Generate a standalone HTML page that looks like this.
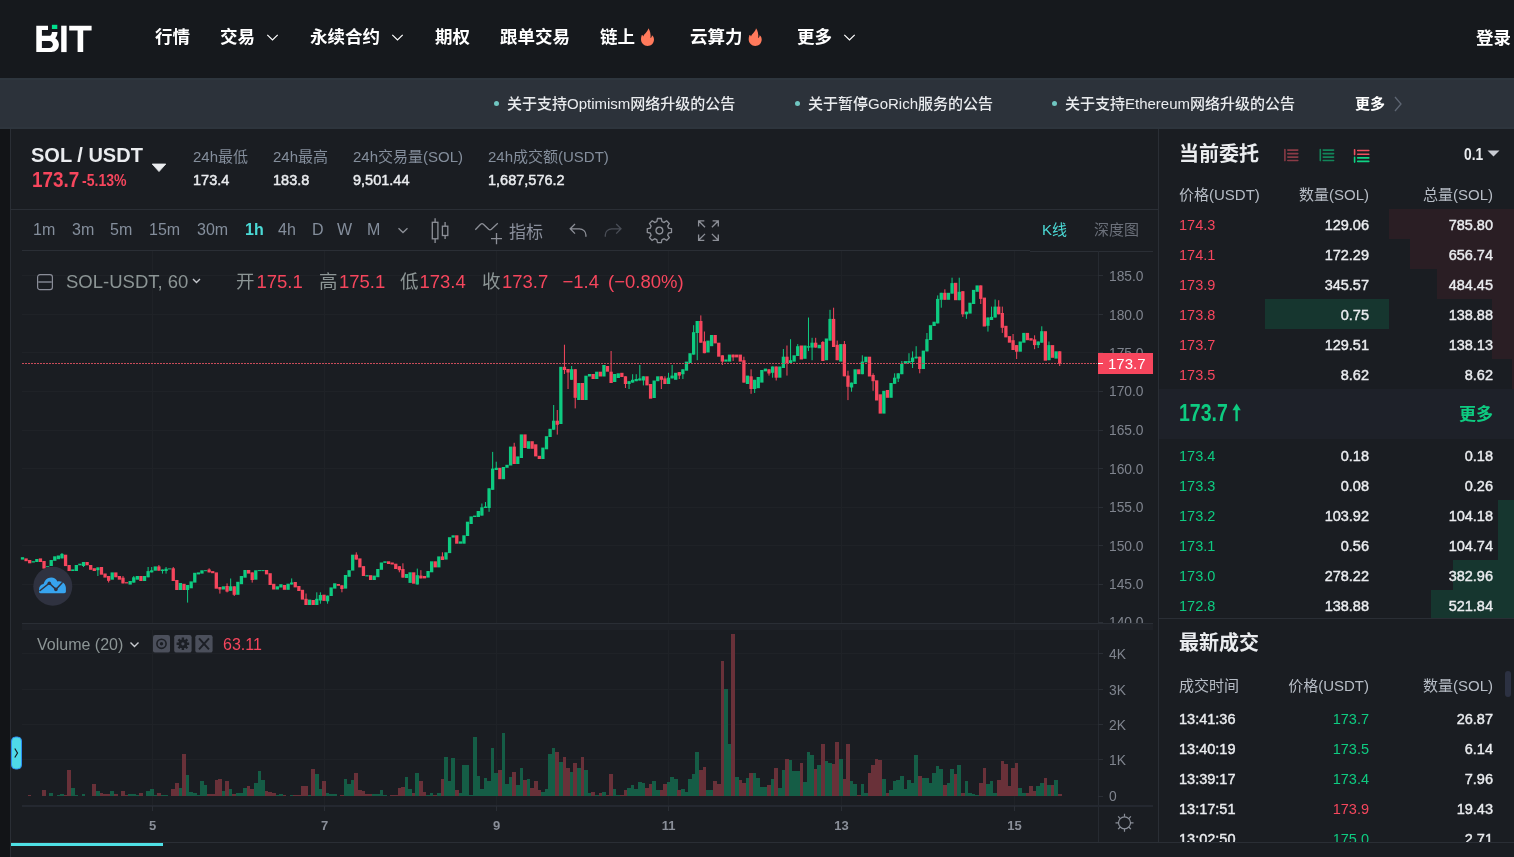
<!DOCTYPE html>
<html lang="zh-CN"><head><meta charset="utf-8"><title>SOL/USDT</title>
<style>
*{box-sizing:border-box;margin:0;padding:0}
html,body{width:1514px;height:857px;overflow:hidden}
body{position:relative;background:#1a1d22;font-family:"Liberation Sans","Noto Sans CJK SC",sans-serif;color:#fff}
.a{position:absolute;white-space:nowrap}
.cjk{font-family:"Liberation Sans","Noto Sans CJK SC",sans-serif}
#hdr{left:0;top:0;width:1514px;height:78px;background:#16191d}
.nav{font-size:17.5px;font-weight:700;color:#fff;line-height:20px;top:27px}
#ann{left:0;top:78px;width:1514px;height:51px;background:#2c323a;border-top:2px solid #2e363e;border-bottom:2px solid #2e353d}
.an{font-size:15px;font-weight:500;color:#eaecef;line-height:20px;top:94px}
.dot{width:5px;height:5px;border-radius:50%;background:#6fc6c0}
#gut{left:0;top:129px;width:10px;height:728px;background:#121417}
#cp{left:10px;top:129px;width:1149px;height:728px;background:#1a1d22;border-left:1px solid #2a2e35}
.hl{background:#2a2e35;height:1px}
.gray{color:#848e9c}
.t14{font-size:14px;line-height:18px}
.tb{font-size:16px;line-height:20px;color:#848e9c;top:220px}
#rp{left:1159px;top:129px;width:355px;height:728px;background:#1a1d22}
.ob{font-size:14.5px;line-height:18px;margin-top:1px}
.ob.w{font-weight:400;-webkit-text-stroke:0.4px #eaecef}
.r{text-align:right}
.red{color:#f6465d}.grn{color:#0ecb81}
.w{color:#eaecef}
.lg{font-size:18.5px;line-height:22px;top:271px;color:#8c9595}
.hd{color:#b7bdc6}
.lg.red{color:#f6465d}
</style></head>
<body>
<!-- ================= HEADER ================= -->
<div id="hdr" class="a"></div>
<svg class="a" style="left:0;top:0" width="100" height="78" viewBox="0 0 100 78">
 <path fill="#fff" fill-rule="evenodd" d="M36.3 25.7H48V30.1H41.9V35.7H50.3C51.3 35.1 51.9 33.6 51.9 32H57.5C57.5 34.6 56.7 36.6 55.2 38.2C57.6 39.6 58.9 41.9 58.9 44.6C58.9 48.8 55.8 52.1 51.5 52.1H36.3Z M41.9 40.9H49.3C51.3 40.9 52.9 42.5 52.9 44.4C52.9 46.3 51.3 47.9 49.3 47.9H41.9Z"/>
 <rect x="51.9" y="24.8" width="5.4" height="4.2" fill="#00e08d"/>
 <rect x="61.2" y="25.7" width="5.4" height="26.4" fill="#fff"/>
 <path fill="#fff" d="M69.2 25.7H91.6V30.4H83.2V52.1H77.6V30.4H69.2Z"/>
</svg>
<div class="a nav" style="left:155px">行情</div>
<div class="a nav" style="left:220px">交易</div>
<div class="a nav" style="left:310px">永续合约</div>
<div class="a nav" style="left:435px">期权</div>
<div class="a nav" style="left:500px">跟单交易</div>
<div class="a nav" style="left:600px">链上</div>
<div class="a nav" style="left:690px">云算力</div>
<div class="a nav" style="left:797px">更多</div>
<div class="a nav" style="left:1476px;top:28px">登录</div>
<svg class="a" style="left:0;top:0" width="900" height="78" viewBox="0 0 900 78" fill="none" stroke="#fff" stroke-width="1.2">
 <path d="M267.3 34.8L272.5 40L277.7 34.8"/>
 <path d="M392.3 34.8L397.5 40L402.7 34.8"/>
 <path d="M844.3 34.8L849.5 40L854.7 34.8"/>
 <g fill="#ff7a5c" stroke="none">
  <path d="M648.3 28.3C647.9 31.5 644.5 33.5 643.3 36.5C642.8 35.4 642.2 35 641.8 35.1C641.2 36.5 641 38 641 39.3C641 43.2 644 46 647.5 46C651.2 46 654 43.2 654 39.5C654 36.8 652.6 35.6 651.9 35.2C651.9 36.5 651.3 37.6 650.5 38C651.1 34.3 649.9 30.3 648.3 28.3Z"/>
  <path transform="translate(107.7 0)" d="M648.3 28.3C647.9 31.5 644.5 33.5 643.3 36.5C642.8 35.4 642.2 35 641.8 35.1C641.2 36.5 641 38 641 39.3C641 43.2 644 46 647.5 46C651.2 46 654 43.2 654 39.5C654 36.8 652.6 35.6 651.9 35.2C651.9 36.5 651.3 37.6 650.5 38C651.1 34.3 649.9 30.3 648.3 28.3Z"/>
 </g>
</svg>

<!-- ================= ANNOUNCEMENTS ================= -->
<div id="ann" class="a"></div>
<div class="a dot" style="left:494px;top:101px"></div>
<div class="a an" style="left:507px">关于支持Optimism网络升级的公告</div>
<div class="a dot" style="left:795px;top:101px"></div>
<div class="a an" style="left:808px">关于暂停GoRich服务的公告</div>
<div class="a dot" style="left:1052px;top:101px"></div>
<div class="a an" style="left:1065px">关于支持Ethereum网络升级的公告</div>
<div class="a an" style="left:1355px;font-weight:700;color:#fff">更多</div>
<svg class="a" style="left:1390px;top:94px" width="16" height="20" viewBox="0 0 16 20"><path d="M5 3L11 10L5 17" fill="none" stroke="#5e6673" stroke-width="1.3"/></svg>

<!-- ================= LEFT GUTTER / CHART PANEL ================= -->
<div id="gut" class="a"></div>
<div id="cp" class="a"></div>
<div class="a" style="left:1158px;top:129px;width:1px;height:713px;background:#2a2e35"></div>


<!-- pair header -->
<div class="a" style="left:31px;top:143px;font-size:20px;font-weight:700;line-height:24px;color:#eaecef">SOL / USDT</div>
<svg class="a" style="left:150px;top:162px" width="18" height="12" viewBox="0 0 18 12"><path d="M2.2 2H15.8L9 9.6Z" fill="#eaecef" stroke="#eaecef" stroke-width="0.8" stroke-linejoin="round"/></svg>
<div class="a red" style="left:31.5px;top:168px;font-size:21.5px;font-weight:700;line-height:24px;transform:scaleX(0.88);transform-origin:0 0">173.7</div>
<div class="a red" style="left:82px;top:172px;font-size:16px;font-weight:700;line-height:18px;transform:scaleX(0.88);transform-origin:0 0">-5.13%</div>
<div class="a gray" style="left:193px;top:148px;font-size:15px;line-height:18px">24h最低</div>
<div class="a w" style="left:193px;top:171px;font-size:14.5px;line-height:18px;-webkit-text-stroke:0.45px #eaecef">173.4</div>
<div class="a gray" style="left:273px;top:148px;font-size:15px;line-height:18px">24h最高</div>
<div class="a w" style="left:273px;top:171px;font-size:14.5px;line-height:18px;-webkit-text-stroke:0.45px #eaecef">183.8</div>
<div class="a gray" style="left:353px;top:148px;font-size:15px;line-height:18px">24h交易量(SOL)</div>
<div class="a w" style="left:353px;top:171px;font-size:14.5px;line-height:18px;-webkit-text-stroke:0.45px #eaecef">9,501.44</div>
<div class="a gray" style="left:488px;top:148px;font-size:15px;line-height:18px">24h成交额(USDT)</div>
<div class="a w" style="left:488px;top:171px;font-size:14.5px;line-height:18px;-webkit-text-stroke:0.45px #eaecef">1,687,576.2</div>
<div class="a hl" style="left:10px;top:209px;width:1149px"></div>

<!-- toolbar -->
<div class="a tb" style="left:33px">1m</div>
<div class="a tb" style="left:72px">3m</div>
<div class="a tb" style="left:110px">5m</div>
<div class="a tb" style="left:149px">15m</div>
<div class="a tb" style="left:197px">30m</div>
<div class="a tb" style="left:245px;color:#4bdad6;font-weight:700">1h</div>
<div class="a tb" style="left:278px">4h</div>
<div class="a tb" style="left:312px">D</div>
<div class="a tb" style="left:337px">W</div>
<div class="a tb" style="left:367px">M</div>
<div class="a tb" style="left:509px;top:222.5px;font-size:17px;color:#8a8f9c">指标</div>
<svg class="a" style="left:380px;top:210px" width="360" height="40" viewBox="380 210 360 40" fill="none" stroke="#8d9098" stroke-width="1.3">
 <path d="M398.5 228.3L403 232.5L407.5 228.3"/>
 <rect x="432.3" y="222.3" width="5.6" height="16.5"/>
 <path d="M435.1 218.2V222.3M435.1 238.8V243"/>
 <rect x="442.4" y="226.2" width="5.4" height="9.3"/>
 <path d="M445.1 221.9V226.2M445.1 235.5V239"/>
 <path d="M475.3 229.8L480.6 224.2Q482 223 483.4 224.2L488.6 229.3Q490 230.4 491.4 229.3L497.8 223.3"/>
 <path d="M491 238.7H502M496.5 233.1V244.2"/>
 <path d="M575 224L570.2 228.8L575 233.6M570.5 228.8H579.5C583 228.8 585.9 231.6 585.9 235V236.8"/>
 <path stroke="#4a4e57" d="M616.2 224L621 228.8L616.2 233.6M620.7 228.8H611.7C608.2 228.8 605.3 231.6 605.3 235V236.8"/>
 <g transform="translate(659.4 230.6)">
  <path d="M-1.9 -11.6H1.9L2.6 -8.6L4.6 -7.7L7.3 -9.3L9.9 -6.6L8.3 -4L9.1 -2L12.1 -1.4V2.4L9.1 3L8.3 5L9.9 7.6L7.3 10.3L4.6 8.7L2.6 9.6L1.9 12.6H-1.9L-2.6 9.6L-4.6 8.7L-7.3 10.3L-9.9 7.6L-8.3 5L-9.1 3L-12.1 2.4V-1.4L-9.1 -2L-8.3 -4L-9.9 -6.6L-7.3 -9.3L-4.6 -7.7L-2.6 -8.6Z" transform="translate(0 -0.5)"/>
  <circle cx="0" cy="0" r="3.4"/>
 </g>
 <path d="M698.6 226.5V220.8H704.3M698.6 220.8L705 227.2 M718.3 226.5V220.8H712.6M718.3 220.8L711.9 227.2 M698.6 234.6V240.3H704.3M698.6 240.3L705 233.9 M718.3 234.6V240.3H712.6M718.3 240.3L711.9 233.9"/>
</svg>
<div class="a" style="left:1042px;top:220px;font-size:15px;line-height:20px;color:#4bdad6">K线</div>
<div class="a" style="left:1094px;top:220px;font-size:15px;line-height:20px;color:#6b707a">深度图</div>
<div class="a hl" style="left:22px;top:250px;width:1008px"></div>
<div class="a hl" style="left:1030px;top:251px;width:123px"></div>

<!-- chart svg -->
<svg class="a" style="left:10px;top:251px" width="1149" height="606" viewBox="10 251 1149 606">
 <g stroke="#1f2227" stroke-width="1">
  <path d="M22 275.5H1098M22 314.5H1098M22 352.5H1098M22 391.5H1098M22 430.5H1098M22 468.5H1098M22 507.5H1098M22 545.5H1098M22 584.5H1098"/>
  <path d="M152.5 251V623M324.5 251V623M496.5 251V623M668.5 251V623M841.5 251V623M1014.5 251V623"/>
  <path d="M22 653.5H1098M22 689.5H1098M22 724.5H1098M22 759.5H1098"/>
  <path d="M152.5 630V806M324.5 630V806M496.5 630V806M668.5 630V806M841.5 630V806M1014.5 630V806"/>
 </g>
 <path d="M1098.5 251V842" stroke="#262a31"/>
 <rect x="20.85" y="557.2" width="3.3" height="2.4" fill="#0ecb81"/>
<rect x="24.44" y="558.4" width="3.3" height="2.8" fill="#f6465d"/>
<rect x="28.03" y="560.0" width="3.3" height="3.3" fill="#f6465d"/>
<rect x="31.62" y="561.2" width="3.3" height="1.3" fill="#0ecb81"/>
<rect x="35.21" y="559.0" width="3.3" height="3.0" fill="#0ecb81"/>
<rect x="38.8" y="558.4" width="3.3" height="3.6" fill="#f6465d"/>
<rect x="42.38" y="561.0" width="3.3" height="7.6" fill="#f6465d"/>
<rect x="45.97" y="566.2" width="3.3" height="1.0" fill="#0ecb81"/>
<rect x="49.56" y="560.0" width="3.3" height="6.0" fill="#0ecb81"/>
<rect x="53.15" y="556.3" width="3.3" height="4.5" fill="#0ecb81"/>
<rect x="56.74" y="555.5" width="3.3" height="3.7" fill="#0ecb81"/>
<rect x="60.33" y="553.9" width="3.3" height="4.5" fill="#0ecb81"/>
<rect x="61.48" y="553.0" width="1" height="5.4" fill="#0ecb81"/>
<rect x="63.92" y="554.7" width="3.3" height="11.4" fill="#f6465d"/>
<rect x="67.51" y="565.0" width="3.3" height="6.0" fill="#f6465d"/>
<rect x="71.1" y="569.4" width="3.3" height="1.6" fill="#0ecb81"/>
<rect x="74.69" y="565.0" width="3.3" height="6.0" fill="#0ecb81"/>
<rect x="78.27" y="563.7" width="3.3" height="1.6" fill="#0ecb81"/>
<rect x="81.86" y="562.0" width="3.3" height="4.0" fill="#0ecb81"/>
<rect x="83.01" y="562.0" width="1" height="5.0" fill="#0ecb81"/>
<rect x="85.45" y="562.0" width="3.3" height="3.3" fill="#f6465d"/>
<rect x="89.04" y="565.0" width="3.3" height="4.8" fill="#f6465d"/>
<rect x="92.63" y="568.2" width="3.3" height="2.8" fill="#f6465d"/>
<rect x="96.22" y="567.4" width="3.3" height="2.8" fill="#0ecb81"/>
<rect x="97.37" y="567.4" width="1" height="8.6" fill="#0ecb81"/>
<rect x="99.81" y="567.0" width="3.3" height="7.7" fill="#f6465d"/>
<rect x="103.4" y="573.5" width="3.3" height="4.1" fill="#f6465d"/>
<rect x="106.99" y="576.0" width="3.3" height="4.8" fill="#f6465d"/>
<rect x="108.14" y="576.0" width="1" height="6.5" fill="#f6465d"/>
<rect x="110.57" y="572.4" width="3.3" height="7.3" fill="#0ecb81"/>
<rect x="114.16" y="572.4" width="3.3" height="4.9" fill="#f6465d"/>
<rect x="117.75" y="576.0" width="3.3" height="3.7" fill="#f6465d"/>
<rect x="121.34" y="577.7" width="3.3" height="5.7" fill="#f6465d"/>
<rect x="122.49" y="576.0" width="1" height="7.4" fill="#f6465d"/>
<rect x="124.93" y="582.2" width="3.3" height="1.2" fill="#f6465d"/>
<rect x="128.52" y="581.0" width="3.3" height="3.6" fill="#0ecb81"/>
<rect x="132.11" y="577.3" width="3.3" height="5.3" fill="#0ecb81"/>
<rect x="133.26" y="576.0" width="1" height="6.6" fill="#0ecb81"/>
<rect x="135.7" y="576.0" width="3.3" height="3.7" fill="#0ecb81"/>
<rect x="139.29" y="576.0" width="3.3" height="5.0" fill="#f6465d"/>
<rect x="142.88" y="576.0" width="3.3" height="5.0" fill="#0ecb81"/>
<rect x="146.47" y="571.1" width="3.3" height="6.2" fill="#0ecb81"/>
<rect x="147.62" y="567.0" width="1" height="10.3" fill="#0ecb81"/>
<rect x="150.05" y="570.3" width="3.3" height="2.1" fill="#0ecb81"/>
<rect x="151.20" y="567.0" width="1" height="5.4" fill="#0ecb81"/>
<rect x="153.64" y="566.4" width="3.3" height="4.3" fill="#0ecb81"/>
<rect x="157.23" y="566.4" width="3.3" height="4.3" fill="#f6465d"/>
<rect x="158.38" y="565.0" width="1" height="5.7" fill="#f6465d"/>
<rect x="160.82" y="569.5" width="3.3" height="1.5" fill="#0ecb81"/>
<rect x="161.97" y="569.5" width="1" height="4.1" fill="#0ecb81"/>
<rect x="164.41" y="568.7" width="3.3" height="2.3" fill="#0ecb81"/>
<rect x="165.56" y="567.0" width="1" height="6.6" fill="#0ecb81"/>
<rect x="168.0" y="568.4" width="3.3" height="1.0" fill="#0ecb81"/>
<rect x="171.59" y="568.3" width="3.3" height="12.7" fill="#f6465d"/>
<rect x="172.74" y="567.0" width="1" height="14.0" fill="#f6465d"/>
<rect x="175.18" y="580.0" width="3.3" height="10.0" fill="#f6465d"/>
<rect x="178.77" y="583.0" width="3.3" height="7.0" fill="#0ecb81"/>
<rect x="182.35" y="583.8" width="3.3" height="6.2" fill="#f6465d"/>
<rect x="185.94" y="585.0" width="3.3" height="5.0" fill="#0ecb81"/>
<rect x="187.09" y="585.0" width="1" height="17.6" fill="#0ecb81"/>
<rect x="189.53" y="581.4" width="3.3" height="6.9" fill="#0ecb81"/>
<rect x="193.12" y="572.8" width="3.3" height="9.8" fill="#0ecb81"/>
<rect x="196.71" y="572.4" width="3.3" height="2.0" fill="#0ecb81"/>
<rect x="200.3" y="570.3" width="3.3" height="3.3" fill="#0ecb81"/>
<rect x="203.89" y="570.2" width="3.3" height="1.0" fill="#0ecb81"/>
<rect x="207.48" y="569.5" width="3.3" height="2.9" fill="#f6465d"/>
<rect x="208.63" y="568.3" width="1" height="4.1" fill="#f6465d"/>
<rect x="211.07" y="571.1" width="3.3" height="2.1" fill="#f6465d"/>
<rect x="214.66" y="572.4" width="3.3" height="16.3" fill="#f6465d"/>
<rect x="218.25" y="587.0" width="3.3" height="2.5" fill="#f6465d"/>
<rect x="219.40" y="587.0" width="1" height="6.6" fill="#f6465d"/>
<rect x="221.83" y="586.3" width="3.3" height="3.2" fill="#0ecb81"/>
<rect x="225.42" y="586.0" width="3.3" height="5.6" fill="#f6465d"/>
<rect x="226.57" y="583.4" width="1" height="9.0" fill="#f6465d"/>
<rect x="229.01" y="586.3" width="3.3" height="4.5" fill="#0ecb81"/>
<rect x="230.16" y="578.5" width="1" height="12.3" fill="#0ecb81"/>
<rect x="232.6" y="586.3" width="3.3" height="8.5" fill="#f6465d"/>
<rect x="233.75" y="586.3" width="1" height="9.7" fill="#f6465d"/>
<rect x="236.19" y="581.8" width="3.3" height="13.0" fill="#0ecb81"/>
<rect x="239.78" y="576.0" width="3.3" height="8.2" fill="#0ecb81"/>
<rect x="243.37" y="570.0" width="3.3" height="7.7" fill="#0ecb81"/>
<rect x="246.96" y="570.0" width="3.3" height="3.6" fill="#f6465d"/>
<rect x="250.55" y="572.4" width="3.3" height="7.6" fill="#f6465d"/>
<rect x="251.70" y="572.4" width="1" height="10.2" fill="#f6465d"/>
<rect x="254.13" y="570.3" width="3.3" height="9.4" fill="#0ecb81"/>
<rect x="257.72" y="570.1" width="3.3" height="1.0" fill="#0ecb81"/>
<rect x="261.31" y="570.1" width="3.3" height="1.0" fill="#0ecb81"/>
<rect x="264.9" y="570.0" width="3.3" height="4.4" fill="#f6465d"/>
<rect x="268.49" y="573.2" width="3.3" height="11.8" fill="#f6465d"/>
<rect x="272.08" y="583.8" width="3.3" height="5.7" fill="#f6465d"/>
<rect x="275.67" y="586.3" width="3.3" height="3.2" fill="#0ecb81"/>
<rect x="279.26" y="584.2" width="3.3" height="3.3" fill="#0ecb81"/>
<rect x="282.85" y="585.0" width="3.3" height="4.8" fill="#f6465d"/>
<rect x="286.44" y="583.7" width="3.3" height="6.1" fill="#0ecb81"/>
<rect x="290.03" y="582.5" width="3.3" height="2.0" fill="#0ecb81"/>
<rect x="291.18" y="578.4" width="1" height="6.1" fill="#0ecb81"/>
<rect x="293.61" y="582.0" width="3.3" height="5.4" fill="#f6465d"/>
<rect x="297.2" y="586.0" width="3.3" height="5.0" fill="#f6465d"/>
<rect x="300.79" y="589.8" width="3.3" height="9.8" fill="#f6465d"/>
<rect x="304.38" y="598.8" width="3.3" height="6.2" fill="#f6465d"/>
<rect x="305.53" y="593.5" width="1" height="11.5" fill="#f6465d"/>
<rect x="307.97" y="599.6" width="3.3" height="5.4" fill="#0ecb81"/>
<rect x="311.56" y="600.0" width="3.3" height="5.0" fill="#f6465d"/>
<rect x="315.15" y="598.8" width="3.3" height="6.2" fill="#0ecb81"/>
<rect x="316.30" y="592.3" width="1" height="12.7" fill="#0ecb81"/>
<rect x="318.74" y="595.0" width="3.3" height="5.5" fill="#0ecb81"/>
<rect x="319.89" y="592.3" width="1" height="11.4" fill="#0ecb81"/>
<rect x="322.33" y="594.7" width="3.3" height="6.2" fill="#f6465d"/>
<rect x="325.92" y="595.6" width="3.3" height="5.7" fill="#0ecb81"/>
<rect x="327.06" y="595.6" width="1" height="8.1" fill="#0ecb81"/>
<rect x="329.5" y="587.4" width="3.3" height="8.6" fill="#0ecb81"/>
<rect x="333.09" y="583.3" width="3.3" height="5.3" fill="#0ecb81"/>
<rect x="336.68" y="584.0" width="3.3" height="1.8" fill="#f6465d"/>
<rect x="340.27" y="585.3" width="3.3" height="3.7" fill="#f6465d"/>
<rect x="341.42" y="585.3" width="1" height="7.0" fill="#f6465d"/>
<rect x="343.86" y="575.0" width="3.3" height="13.6" fill="#0ecb81"/>
<rect x="347.45" y="570.2" width="3.3" height="6.6" fill="#0ecb81"/>
<rect x="351.04" y="554.7" width="3.3" height="15.9" fill="#0ecb81"/>
<rect x="354.63" y="554.7" width="3.3" height="4.9" fill="#f6465d"/>
<rect x="355.78" y="552.3" width="1" height="7.3" fill="#f6465d"/>
<rect x="358.22" y="558.4" width="3.3" height="9.0" fill="#f6465d"/>
<rect x="361.81" y="566.1" width="3.3" height="9.9" fill="#f6465d"/>
<rect x="365.39" y="575.2" width="3.3" height="1.2" fill="#0ecb81"/>
<rect x="368.98" y="575.2" width="3.3" height="4.8" fill="#f6465d"/>
<rect x="372.57" y="575.6" width="3.3" height="4.4" fill="#0ecb81"/>
<rect x="376.16" y="569.0" width="3.3" height="8.2" fill="#0ecb81"/>
<rect x="379.75" y="562.5" width="3.3" height="7.3" fill="#0ecb81"/>
<rect x="383.34" y="561.3" width="3.3" height="1.6" fill="#0ecb81"/>
<rect x="386.93" y="561.3" width="3.3" height="2.7" fill="#f6465d"/>
<rect x="390.52" y="562.5" width="3.3" height="2.0" fill="#f6465d"/>
<rect x="394.11" y="563.7" width="3.3" height="5.3" fill="#f6465d"/>
<rect x="397.69" y="566.2" width="3.3" height="4.0" fill="#f6465d"/>
<rect x="398.84" y="566.2" width="1" height="6.1" fill="#f6465d"/>
<rect x="401.28" y="569.0" width="3.3" height="8.6" fill="#f6465d"/>
<rect x="402.43" y="563.3" width="1" height="14.3" fill="#f6465d"/>
<rect x="404.87" y="574.0" width="3.3" height="4.0" fill="#0ecb81"/>
<rect x="408.46" y="572.3" width="3.3" height="10.6" fill="#0ecb81"/>
<rect x="412.05" y="572.3" width="3.3" height="11.4" fill="#f6465d"/>
<rect x="415.64" y="575.2" width="3.3" height="9.3" fill="#0ecb81"/>
<rect x="416.79" y="568.6" width="1" height="15.9" fill="#0ecb81"/>
<rect x="419.23" y="575.6" width="3.3" height="2.8" fill="#f6465d"/>
<rect x="420.38" y="570.2" width="1" height="8.2" fill="#f6465d"/>
<rect x="422.82" y="576.0" width="3.3" height="2.4" fill="#f6465d"/>
<rect x="426.41" y="571.0" width="3.3" height="6.6" fill="#0ecb81"/>
<rect x="430.0" y="561.3" width="3.3" height="11.0" fill="#0ecb81"/>
<rect x="433.59" y="561.3" width="3.3" height="6.1" fill="#f6465d"/>
<rect x="437.17" y="556.4" width="3.3" height="11.0" fill="#0ecb81"/>
<rect x="440.76" y="556.4" width="3.3" height="3.6" fill="#f6465d"/>
<rect x="441.91" y="552.3" width="1" height="7.7" fill="#f6465d"/>
<rect x="444.35" y="552.3" width="3.3" height="7.3" fill="#0ecb81"/>
<rect x="447.94" y="537.2" width="3.3" height="15.9" fill="#0ecb81"/>
<rect x="451.53" y="535.3" width="3.3" height="2.3" fill="#0ecb81"/>
<rect x="455.12" y="535.3" width="3.3" height="8.4" fill="#f6465d"/>
<rect x="458.71" y="541.4" width="3.3" height="2.3" fill="#0ecb81"/>
<rect x="462.3" y="535.3" width="3.3" height="8.4" fill="#0ecb81"/>
<rect x="465.89" y="521.7" width="3.3" height="14.3" fill="#0ecb81"/>
<rect x="469.48" y="516.4" width="3.3" height="7.6" fill="#0ecb81"/>
<rect x="473.06" y="515.6" width="3.3" height="1.4" fill="#0ecb81"/>
<rect x="476.65" y="511.0" width="3.3" height="6.0" fill="#0ecb81"/>
<rect x="480.24" y="507.3" width="3.3" height="8.3" fill="#0ecb81"/>
<rect x="481.39" y="503.5" width="1" height="12.1" fill="#0ecb81"/>
<rect x="483.83" y="506.5" width="3.3" height="1.5" fill="#0ecb81"/>
<rect x="484.98" y="502.0" width="1" height="6.0" fill="#0ecb81"/>
<rect x="487.42" y="488.3" width="3.3" height="19.7" fill="#0ecb81"/>
<rect x="488.57" y="488.3" width="1" height="23.5" fill="#0ecb81"/>
<rect x="491.01" y="468.6" width="3.3" height="21.2" fill="#0ecb81"/>
<rect x="492.16" y="451.9" width="1" height="37.9" fill="#0ecb81"/>
<rect x="494.6" y="467.8" width="3.3" height="2.2" fill="#0ecb81"/>
<rect x="495.75" y="461.7" width="1" height="8.3" fill="#0ecb81"/>
<rect x="498.19" y="467.8" width="3.3" height="11.4" fill="#f6465d"/>
<rect x="501.78" y="467.0" width="3.3" height="12.2" fill="#0ecb81"/>
<rect x="505.37" y="464.8" width="3.3" height="3.0" fill="#0ecb81"/>
<rect x="508.95" y="446.6" width="3.3" height="18.9" fill="#0ecb81"/>
<rect x="512.54" y="446.6" width="3.3" height="17.4" fill="#f6465d"/>
<rect x="513.69" y="442.8" width="1" height="21.2" fill="#f6465d"/>
<rect x="516.13" y="456.4" width="3.3" height="7.6" fill="#0ecb81"/>
<rect x="519.72" y="434.4" width="3.3" height="23.6" fill="#0ecb81"/>
<rect x="523.31" y="434.4" width="3.3" height="13.6" fill="#f6465d"/>
<rect x="526.9" y="441.2" width="3.3" height="7.6" fill="#0ecb81"/>
<rect x="530.49" y="441.2" width="3.3" height="7.6" fill="#f6465d"/>
<rect x="534.08" y="444.3" width="3.3" height="12.1" fill="#f6465d"/>
<rect x="537.67" y="455.8" width="3.3" height="3.2" fill="#f6465d"/>
<rect x="541.25" y="447.6" width="3.3" height="11.4" fill="#0ecb81"/>
<rect x="544.84" y="436.2" width="3.3" height="13.1" fill="#0ecb81"/>
<rect x="548.43" y="428.8" width="3.3" height="8.2" fill="#0ecb81"/>
<rect x="552.02" y="420.7" width="3.3" height="9.0" fill="#0ecb81"/>
<rect x="553.17" y="405.0" width="1" height="24.7" fill="#0ecb81"/>
<rect x="555.61" y="420.7" width="3.3" height="4.1" fill="#f6465d"/>
<rect x="556.76" y="410.0" width="1" height="24.6" fill="#f6465d"/>
<rect x="559.2" y="366.8" width="3.3" height="57.2" fill="#0ecb81"/>
<rect x="562.79" y="366.8" width="3.3" height="3.2" fill="#f6465d"/>
<rect x="563.94" y="344.7" width="1" height="29.3" fill="#f6465d"/>
<rect x="566.38" y="369.0" width="3.3" height="3.5" fill="#f6465d"/>
<rect x="567.53" y="369.0" width="1" height="20.0" fill="#f6465d"/>
<rect x="569.97" y="369.2" width="3.3" height="10.6" fill="#0ecb81"/>
<rect x="571.12" y="366.0" width="1" height="13.8" fill="#0ecb81"/>
<rect x="573.56" y="369.2" width="3.3" height="28.6" fill="#f6465d"/>
<rect x="574.71" y="369.2" width="1" height="39.2" fill="#f6465d"/>
<rect x="577.14" y="383.0" width="3.3" height="17.0" fill="#0ecb81"/>
<rect x="580.73" y="383.0" width="3.3" height="17.0" fill="#f6465d"/>
<rect x="584.32" y="375.7" width="3.3" height="24.3" fill="#0ecb81"/>
<rect x="587.91" y="374.0" width="3.3" height="2.5" fill="#0ecb81"/>
<rect x="591.5" y="374.0" width="3.3" height="5.0" fill="#f6465d"/>
<rect x="595.09" y="371.7" width="3.3" height="7.3" fill="#0ecb81"/>
<rect x="598.68" y="371.7" width="3.3" height="4.8" fill="#f6465d"/>
<rect x="602.27" y="365.0" width="3.3" height="11.5" fill="#0ecb81"/>
<rect x="605.86" y="366.0" width="3.3" height="5.7" fill="#f6465d"/>
<rect x="609.45" y="371.7" width="3.3" height="11.3" fill="#f6465d"/>
<rect x="610.60" y="351.0" width="1" height="32.0" fill="#f6465d"/>
<rect x="613.03" y="374.0" width="3.3" height="8.0" fill="#0ecb81"/>
<rect x="616.62" y="373.3" width="3.3" height="4.7" fill="#0ecb81"/>
<rect x="620.21" y="372.8" width="3.3" height="4.2" fill="#f6465d"/>
<rect x="623.8" y="376.3" width="3.3" height="7.7" fill="#f6465d"/>
<rect x="624.95" y="376.3" width="1" height="11.7" fill="#f6465d"/>
<rect x="627.39" y="381.2" width="3.3" height="2.8" fill="#0ecb81"/>
<rect x="628.54" y="381.2" width="1" height="7.8" fill="#0ecb81"/>
<rect x="630.98" y="379.8" width="3.3" height="2.8" fill="#0ecb81"/>
<rect x="632.13" y="374.2" width="1" height="8.4" fill="#0ecb81"/>
<rect x="634.57" y="379.0" width="3.3" height="2.2" fill="#0ecb81"/>
<rect x="635.72" y="374.2" width="1" height="7.0" fill="#0ecb81"/>
<rect x="638.16" y="378.4" width="3.3" height="2.1" fill="#0ecb81"/>
<rect x="639.31" y="365.0" width="1" height="15.5" fill="#0ecb81"/>
<rect x="641.75" y="376.3" width="3.3" height="4.2" fill="#0ecb81"/>
<rect x="642.90" y="376.3" width="1" height="9.1" fill="#0ecb81"/>
<rect x="645.34" y="376.3" width="3.3" height="9.1" fill="#f6465d"/>
<rect x="648.93" y="384.0" width="3.3" height="14.7" fill="#f6465d"/>
<rect x="652.51" y="380.5" width="3.3" height="17.5" fill="#0ecb81"/>
<rect x="656.1" y="376.3" width="3.3" height="4.9" fill="#0ecb81"/>
<rect x="659.69" y="376.3" width="3.3" height="3.5" fill="#f6465d"/>
<rect x="660.84" y="376.3" width="1" height="12.7" fill="#f6465d"/>
<rect x="663.28" y="378.4" width="3.3" height="5.6" fill="#f6465d"/>
<rect x="664.43" y="376.3" width="1" height="7.7" fill="#f6465d"/>
<rect x="666.87" y="377.7" width="3.3" height="6.3" fill="#0ecb81"/>
<rect x="668.02" y="372.8" width="1" height="11.2" fill="#0ecb81"/>
<rect x="670.46" y="375.6" width="3.3" height="2.8" fill="#0ecb81"/>
<rect x="671.61" y="365.0" width="1" height="13.4" fill="#0ecb81"/>
<rect x="674.05" y="372.8" width="3.3" height="7.0" fill="#0ecb81"/>
<rect x="677.64" y="372.1" width="3.3" height="3.5" fill="#f6465d"/>
<rect x="678.79" y="372.1" width="1" height="6.9" fill="#f6465d"/>
<rect x="681.23" y="369.3" width="3.3" height="4.9" fill="#0ecb81"/>
<rect x="682.38" y="369.3" width="1" height="9.7" fill="#0ecb81"/>
<rect x="684.82" y="361.6" width="3.3" height="9.1" fill="#0ecb81"/>
<rect x="688.4" y="353.2" width="3.3" height="9.8" fill="#0ecb81"/>
<rect x="691.99" y="332.2" width="3.3" height="22.4" fill="#0ecb81"/>
<rect x="693.14" y="325.2" width="1" height="29.4" fill="#0ecb81"/>
<rect x="695.58" y="321.0" width="3.3" height="12.0" fill="#0ecb81"/>
<rect x="696.73" y="321.0" width="1" height="39.2" fill="#0ecb81"/>
<rect x="699.17" y="321.0" width="3.3" height="21.7" fill="#f6465d"/>
<rect x="700.32" y="315.4" width="1" height="27.3" fill="#f6465d"/>
<rect x="702.76" y="341.3" width="3.3" height="11.9" fill="#f6465d"/>
<rect x="703.91" y="331.5" width="1" height="21.7" fill="#f6465d"/>
<rect x="706.35" y="340.6" width="3.3" height="11.9" fill="#0ecb81"/>
<rect x="709.94" y="335.0" width="3.3" height="11.2" fill="#0ecb81"/>
<rect x="713.53" y="335.0" width="3.3" height="8.4" fill="#f6465d"/>
<rect x="717.12" y="342.7" width="3.3" height="14.0" fill="#f6465d"/>
<rect x="720.71" y="355.3" width="3.3" height="6.3" fill="#f6465d"/>
<rect x="721.86" y="355.3" width="1" height="9.7" fill="#f6465d"/>
<rect x="724.29" y="359.5" width="3.3" height="2.1" fill="#0ecb81"/>
<rect x="727.88" y="354.6" width="3.3" height="7.0" fill="#0ecb81"/>
<rect x="731.47" y="354.6" width="3.3" height="2.8" fill="#f6465d"/>
<rect x="732.62" y="354.6" width="1" height="6.4" fill="#f6465d"/>
<rect x="735.06" y="354.6" width="3.3" height="2.8" fill="#f6465d"/>
<rect x="738.65" y="354.6" width="3.3" height="7.0" fill="#f6465d"/>
<rect x="742.24" y="360.2" width="3.3" height="22.4" fill="#f6465d"/>
<rect x="743.39" y="356.7" width="1" height="25.9" fill="#f6465d"/>
<rect x="745.83" y="375.6" width="3.3" height="8.4" fill="#0ecb81"/>
<rect x="749.42" y="376.3" width="3.3" height="12.7" fill="#f6465d"/>
<rect x="750.57" y="369.3" width="1" height="24.5" fill="#f6465d"/>
<rect x="753.01" y="379.8" width="3.3" height="9.2" fill="#0ecb81"/>
<rect x="754.16" y="379.8" width="1" height="13.2" fill="#0ecb81"/>
<rect x="756.6" y="377.0" width="3.3" height="11.2" fill="#0ecb81"/>
<rect x="760.18" y="370.0" width="3.3" height="12.6" fill="#0ecb81"/>
<rect x="763.77" y="368.6" width="3.3" height="2.8" fill="#0ecb81"/>
<rect x="767.36" y="369.3" width="3.3" height="4.2" fill="#f6465d"/>
<rect x="768.51" y="369.3" width="1" height="6.3" fill="#f6465d"/>
<rect x="770.95" y="366.5" width="3.3" height="6.3" fill="#0ecb81"/>
<rect x="772.10" y="366.5" width="1" height="11.2" fill="#0ecb81"/>
<rect x="774.54" y="366.5" width="3.3" height="11.2" fill="#f6465d"/>
<rect x="775.69" y="366.5" width="1" height="14.0" fill="#f6465d"/>
<rect x="778.13" y="366.5" width="3.3" height="11.2" fill="#0ecb81"/>
<rect x="781.72" y="356.7" width="3.3" height="11.3" fill="#0ecb81"/>
<rect x="782.87" y="349.0" width="1" height="19.0" fill="#0ecb81"/>
<rect x="785.31" y="356.7" width="3.3" height="6.3" fill="#f6465d"/>
<rect x="786.46" y="345.5" width="1" height="30.1" fill="#f6465d"/>
<rect x="788.9" y="360.2" width="3.3" height="2.8" fill="#0ecb81"/>
<rect x="790.05" y="339.2" width="1" height="23.8" fill="#0ecb81"/>
<rect x="792.49" y="355.3" width="3.3" height="6.3" fill="#0ecb81"/>
<rect x="796.07" y="346.2" width="3.3" height="9.8" fill="#0ecb81"/>
<rect x="797.22" y="344.1" width="1" height="11.9" fill="#0ecb81"/>
<rect x="799.66" y="345.5" width="3.3" height="14.0" fill="#f6465d"/>
<rect x="803.25" y="345.5" width="3.3" height="13.3" fill="#0ecb81"/>
<rect x="806.84" y="346.2" width="3.3" height="1.4" fill="#0ecb81"/>
<rect x="807.99" y="317.5" width="1" height="33.6" fill="#0ecb81"/>
<rect x="810.43" y="342.7" width="3.3" height="4.9" fill="#0ecb81"/>
<rect x="811.58" y="337.8" width="1" height="22.4" fill="#0ecb81"/>
<rect x="814.02" y="342.7" width="3.3" height="4.9" fill="#f6465d"/>
<rect x="815.17" y="337.8" width="1" height="9.8" fill="#f6465d"/>
<rect x="817.61" y="344.8" width="3.3" height="3.5" fill="#0ecb81"/>
<rect x="821.2" y="342.0" width="3.3" height="19.0" fill="#f6465d"/>
<rect x="822.35" y="341.0" width="1" height="20.0" fill="#f6465d"/>
<rect x="824.79" y="338.5" width="3.3" height="21.7" fill="#0ecb81"/>
<rect x="828.38" y="318.9" width="3.3" height="21.7" fill="#0ecb81"/>
<rect x="829.52" y="309.8" width="1" height="30.8" fill="#0ecb81"/>
<rect x="831.96" y="318.9" width="3.3" height="28.1" fill="#f6465d"/>
<rect x="833.11" y="307.7" width="1" height="39.3" fill="#f6465d"/>
<rect x="835.55" y="344.8" width="3.3" height="15.4" fill="#f6465d"/>
<rect x="836.70" y="340.6" width="1" height="19.6" fill="#f6465d"/>
<rect x="839.14" y="344.1" width="3.3" height="17.5" fill="#0ecb81"/>
<rect x="842.73" y="344.1" width="3.3" height="32.2" fill="#f6465d"/>
<rect x="843.88" y="341.0" width="1" height="35.3" fill="#f6465d"/>
<rect x="846.32" y="375.6" width="3.3" height="11.2" fill="#f6465d"/>
<rect x="847.47" y="370.7" width="1" height="29.4" fill="#f6465d"/>
<rect x="849.91" y="382.6" width="3.3" height="4.9" fill="#0ecb81"/>
<rect x="851.06" y="382.6" width="1" height="9.1" fill="#0ecb81"/>
<rect x="853.5" y="369.3" width="3.3" height="14.7" fill="#0ecb81"/>
<rect x="857.09" y="369.3" width="3.3" height="4.9" fill="#f6465d"/>
<rect x="860.68" y="361.6" width="3.3" height="12.6" fill="#0ecb81"/>
<rect x="861.83" y="355.3" width="1" height="18.9" fill="#0ecb81"/>
<rect x="864.26" y="356.7" width="3.3" height="5.6" fill="#0ecb81"/>
<rect x="867.85" y="356.7" width="3.3" height="19.8" fill="#f6465d"/>
<rect x="871.44" y="375.0" width="3.3" height="6.2" fill="#f6465d"/>
<rect x="872.59" y="373.3" width="1" height="17.5" fill="#f6465d"/>
<rect x="875.03" y="380.3" width="3.3" height="20.2" fill="#f6465d"/>
<rect x="878.62" y="394.3" width="3.3" height="19.3" fill="#f6465d"/>
<rect x="882.21" y="390.8" width="3.3" height="22.8" fill="#0ecb81"/>
<rect x="885.8" y="390.0" width="3.3" height="7.8" fill="#f6465d"/>
<rect x="889.39" y="383.0" width="3.3" height="14.8" fill="#0ecb81"/>
<rect x="892.98" y="377.7" width="3.3" height="6.1" fill="#0ecb81"/>
<rect x="894.13" y="373.3" width="1" height="10.5" fill="#0ecb81"/>
<rect x="896.57" y="373.3" width="3.3" height="5.3" fill="#0ecb81"/>
<rect x="897.72" y="373.3" width="1" height="8.7" fill="#0ecb81"/>
<rect x="900.15" y="363.7" width="3.3" height="10.5" fill="#0ecb81"/>
<rect x="901.30" y="361.0" width="1" height="13.2" fill="#0ecb81"/>
<rect x="903.74" y="361.1" width="3.3" height="2.6" fill="#0ecb81"/>
<rect x="907.33" y="361.0" width="3.3" height="1.8" fill="#0ecb81"/>
<rect x="908.48" y="353.2" width="1" height="9.6" fill="#0ecb81"/>
<rect x="910.92" y="357.6" width="3.3" height="4.4" fill="#0ecb81"/>
<rect x="912.07" y="351.4" width="1" height="16.6" fill="#0ecb81"/>
<rect x="914.51" y="356.7" width="3.3" height="1.7" fill="#0ecb81"/>
<rect x="915.66" y="346.2" width="1" height="12.2" fill="#0ecb81"/>
<rect x="918.1" y="356.7" width="3.3" height="12.3" fill="#f6465d"/>
<rect x="919.25" y="356.7" width="1" height="16.6" fill="#f6465d"/>
<rect x="921.69" y="350.6" width="3.3" height="18.4" fill="#0ecb81"/>
<rect x="925.28" y="339.2" width="3.3" height="12.2" fill="#0ecb81"/>
<rect x="926.43" y="333.0" width="1" height="18.4" fill="#0ecb81"/>
<rect x="928.87" y="325.2" width="3.3" height="14.8" fill="#0ecb81"/>
<rect x="932.46" y="321.7" width="3.3" height="4.3" fill="#0ecb81"/>
<rect x="936.04" y="298.9" width="3.3" height="24.5" fill="#0ecb81"/>
<rect x="937.19" y="295.4" width="1" height="28.0" fill="#0ecb81"/>
<rect x="939.63" y="292.8" width="3.3" height="7.0" fill="#0ecb81"/>
<rect x="940.78" y="292.8" width="1" height="14.9" fill="#0ecb81"/>
<rect x="943.22" y="292.8" width="3.3" height="7.0" fill="#f6465d"/>
<rect x="944.37" y="289.3" width="1" height="10.5" fill="#f6465d"/>
<rect x="946.81" y="292.8" width="3.3" height="7.0" fill="#0ecb81"/>
<rect x="950.4" y="283.1" width="3.3" height="10.5" fill="#0ecb81"/>
<rect x="951.55" y="277.7" width="1" height="15.9" fill="#0ecb81"/>
<rect x="953.99" y="282.8" width="3.3" height="17.4" fill="#f6465d"/>
<rect x="957.58" y="291.8" width="3.3" height="8.4" fill="#0ecb81"/>
<rect x="958.73" y="277.7" width="1" height="22.5" fill="#0ecb81"/>
<rect x="961.17" y="291.2" width="3.3" height="23.1" fill="#f6465d"/>
<rect x="962.32" y="291.2" width="1" height="25.7" fill="#f6465d"/>
<rect x="964.76" y="311.7" width="3.3" height="2.6" fill="#0ecb81"/>
<rect x="965.91" y="311.7" width="1" height="7.1" fill="#0ecb81"/>
<rect x="968.35" y="302.7" width="3.3" height="10.9" fill="#0ecb81"/>
<rect x="971.94" y="289.9" width="3.3" height="14.1" fill="#0ecb81"/>
<rect x="975.52" y="285.4" width="3.3" height="6.4" fill="#0ecb81"/>
<rect x="979.11" y="285.4" width="3.3" height="13.5" fill="#f6465d"/>
<rect x="980.26" y="285.4" width="1" height="18.6" fill="#f6465d"/>
<rect x="982.7" y="297.6" width="3.3" height="28.9" fill="#f6465d"/>
<rect x="986.29" y="317.5" width="3.3" height="8.3" fill="#0ecb81"/>
<rect x="987.44" y="317.5" width="1" height="14.1" fill="#0ecb81"/>
<rect x="989.88" y="316.9" width="3.3" height="3.1" fill="#0ecb81"/>
<rect x="991.03" y="306.6" width="1" height="13.4" fill="#0ecb81"/>
<rect x="993.47" y="306.6" width="3.3" height="10.9" fill="#0ecb81"/>
<rect x="994.62" y="299.5" width="1" height="18.0" fill="#0ecb81"/>
<rect x="997.06" y="306.6" width="3.3" height="7.7" fill="#f6465d"/>
<rect x="998.21" y="300.2" width="1" height="14.1" fill="#f6465d"/>
<rect x="1000.65" y="313.0" width="3.3" height="14.8" fill="#f6465d"/>
<rect x="1001.80" y="306.6" width="1" height="26.3" fill="#f6465d"/>
<rect x="1004.24" y="325.8" width="3.3" height="11.6" fill="#f6465d"/>
<rect x="1007.83" y="336.1" width="3.3" height="6.6" fill="#f6465d"/>
<rect x="1011.41" y="340.2" width="3.3" height="9.8" fill="#f6465d"/>
<rect x="1012.56" y="334.0" width="1" height="16.0" fill="#f6465d"/>
<rect x="1015.0" y="345.1" width="3.3" height="6.6" fill="#f6465d"/>
<rect x="1016.15" y="345.1" width="1" height="13.9" fill="#f6465d"/>
<rect x="1018.59" y="341.5" width="3.3" height="10.2" fill="#0ecb81"/>
<rect x="1022.18" y="332.9" width="3.3" height="9.8" fill="#0ecb81"/>
<rect x="1025.77" y="332.9" width="3.3" height="7.3" fill="#f6465d"/>
<rect x="1029.36" y="338.2" width="3.3" height="2.4" fill="#f6465d"/>
<rect x="1032.95" y="339.4" width="3.3" height="5.7" fill="#f6465d"/>
<rect x="1034.10" y="335.3" width="1" height="13.9" fill="#f6465d"/>
<rect x="1036.54" y="341.5" width="3.3" height="3.6" fill="#0ecb81"/>
<rect x="1037.69" y="341.5" width="1" height="6.5" fill="#0ecb81"/>
<rect x="1040.13" y="331.2" width="3.3" height="11.5" fill="#0ecb81"/>
<rect x="1041.28" y="326.3" width="1" height="16.4" fill="#0ecb81"/>
<rect x="1043.71" y="331.2" width="3.3" height="29.5" fill="#f6465d"/>
<rect x="1047.3" y="345.1" width="3.3" height="15.1" fill="#0ecb81"/>
<rect x="1048.45" y="341.5" width="1" height="18.7" fill="#0ecb81"/>
<rect x="1050.89" y="345.1" width="3.3" height="12.7" fill="#f6465d"/>
<rect x="1054.48" y="351.3" width="3.3" height="7.3" fill="#0ecb81"/>
<rect x="1058.07" y="351.3" width="3.3" height="12.6" fill="#f6465d"/>
<rect x="1059.22" y="351.3" width="1" height="14.7" fill="#f6465d"/>
 <g shape-rendering="crispEdges"><rect x="27.88" y="794.8" width="3.6" height="1.5" fill="#693139"/>
<rect x="42.23" y="789.8" width="3.6" height="6.5" fill="#693139"/>
<rect x="49.41" y="792.7" width="3.6" height="3.6" fill="#155d46"/>
<rect x="56.59" y="794.8" width="3.6" height="1.5" fill="#155d46"/>
<rect x="60.18" y="793.9" width="3.6" height="2.4" fill="#155d46"/>
<rect x="63.77" y="794.8" width="3.6" height="1.5" fill="#693139"/>
<rect x="67.36" y="769.9" width="3.6" height="26.4" fill="#693139"/>
<rect x="70.95" y="787.7" width="3.6" height="8.6" fill="#155d46"/>
<rect x="74.54" y="795.3" width="3.6" height="1.0" fill="#155d46"/>
<rect x="81.71" y="793.9" width="3.6" height="2.4" fill="#155d46"/>
<rect x="92.48" y="783.9" width="3.6" height="12.4" fill="#693139"/>
<rect x="96.07" y="791.3" width="3.6" height="5.0" fill="#155d46"/>
<rect x="99.66" y="792.7" width="3.6" height="3.6" fill="#693139"/>
<rect x="103.25" y="793.9" width="3.6" height="2.4" fill="#693139"/>
<rect x="106.84" y="793.9" width="3.6" height="2.4" fill="#693139"/>
<rect x="110.42" y="791.3" width="3.6" height="5.0" fill="#155d46"/>
<rect x="114.01" y="793.9" width="3.6" height="2.4" fill="#693139"/>
<rect x="121.19" y="791.3" width="3.6" height="5.0" fill="#693139"/>
<rect x="124.78" y="794.8" width="3.6" height="1.5" fill="#693139"/>
<rect x="128.37" y="793.9" width="3.6" height="2.4" fill="#155d46"/>
<rect x="131.96" y="793.9" width="3.6" height="2.4" fill="#155d46"/>
<rect x="135.55" y="794.8" width="3.6" height="1.5" fill="#155d46"/>
<rect x="139.14" y="792.7" width="3.6" height="3.6" fill="#693139"/>
<rect x="146.31" y="791.3" width="3.6" height="5.0" fill="#155d46"/>
<rect x="149.90" y="789.3" width="3.6" height="7.0" fill="#155d46"/>
<rect x="153.49" y="794.8" width="3.6" height="1.5" fill="#155d46"/>
<rect x="157.08" y="792.7" width="3.6" height="3.6" fill="#693139"/>
<rect x="160.67" y="794.8" width="3.6" height="1.5" fill="#155d46"/>
<rect x="164.26" y="794.8" width="3.6" height="1.5" fill="#155d46"/>
<rect x="171.44" y="788.8" width="3.6" height="7.5" fill="#693139"/>
<rect x="175.03" y="782.9" width="3.6" height="13.4" fill="#693139"/>
<rect x="178.62" y="787.7" width="3.6" height="8.6" fill="#155d46"/>
<rect x="182.20" y="754.3" width="3.6" height="42.0" fill="#693139"/>
<rect x="185.79" y="775.3" width="3.6" height="21.0" fill="#155d46"/>
<rect x="189.38" y="791.5" width="3.6" height="4.8" fill="#155d46"/>
<rect x="192.97" y="792.7" width="3.6" height="3.6" fill="#155d46"/>
<rect x="196.56" y="794.8" width="3.6" height="1.5" fill="#155d46"/>
<rect x="200.15" y="781.2" width="3.6" height="15.1" fill="#155d46"/>
<rect x="203.74" y="785.0" width="3.6" height="11.3" fill="#155d46"/>
<rect x="207.33" y="793.9" width="3.6" height="2.4" fill="#693139"/>
<rect x="210.92" y="793.9" width="3.6" height="2.4" fill="#693139"/>
<rect x="214.51" y="780.0" width="3.6" height="16.3" fill="#693139"/>
<rect x="218.09" y="778.8" width="3.6" height="17.5" fill="#693139"/>
<rect x="221.68" y="791.2" width="3.6" height="5.1" fill="#155d46"/>
<rect x="225.27" y="781.2" width="3.6" height="15.1" fill="#693139"/>
<rect x="228.86" y="788.8" width="3.6" height="7.5" fill="#155d46"/>
<rect x="232.45" y="793.9" width="3.6" height="2.4" fill="#693139"/>
<rect x="236.04" y="792.7" width="3.6" height="3.6" fill="#155d46"/>
<rect x="239.63" y="792.7" width="3.6" height="3.6" fill="#155d46"/>
<rect x="243.22" y="787.7" width="3.6" height="8.6" fill="#155d46"/>
<rect x="246.81" y="786.2" width="3.6" height="10.1" fill="#693139"/>
<rect x="250.40" y="788.6" width="3.6" height="7.7" fill="#693139"/>
<rect x="253.98" y="782.9" width="3.6" height="13.4" fill="#155d46"/>
<rect x="257.57" y="771.3" width="3.6" height="25.0" fill="#155d46"/>
<rect x="261.16" y="780.0" width="3.6" height="16.3" fill="#155d46"/>
<rect x="264.75" y="791.2" width="3.6" height="5.1" fill="#693139"/>
<rect x="268.34" y="791.5" width="3.6" height="4.8" fill="#693139"/>
<rect x="271.93" y="792.7" width="3.6" height="3.6" fill="#693139"/>
<rect x="275.52" y="794.8" width="3.6" height="1.5" fill="#155d46"/>
<rect x="279.11" y="793.9" width="3.6" height="2.4" fill="#155d46"/>
<rect x="282.70" y="794.8" width="3.6" height="1.5" fill="#693139"/>
<rect x="289.88" y="794.8" width="3.6" height="1.5" fill="#155d46"/>
<rect x="293.46" y="794.8" width="3.6" height="1.5" fill="#693139"/>
<rect x="297.05" y="794.8" width="3.6" height="1.5" fill="#693139"/>
<rect x="300.64" y="786.4" width="3.6" height="9.9" fill="#693139"/>
<rect x="304.23" y="786.4" width="3.6" height="9.9" fill="#693139"/>
<rect x="307.82" y="794.8" width="3.6" height="1.5" fill="#155d46"/>
<rect x="311.41" y="769.0" width="3.6" height="27.3" fill="#693139"/>
<rect x="315.00" y="773.9" width="3.6" height="22.4" fill="#155d46"/>
<rect x="318.59" y="788.8" width="3.6" height="7.5" fill="#155d46"/>
<rect x="322.18" y="781.4" width="3.6" height="14.9" fill="#693139"/>
<rect x="325.76" y="792.7" width="3.6" height="3.6" fill="#155d46"/>
<rect x="329.35" y="793.9" width="3.6" height="2.4" fill="#155d46"/>
<rect x="332.94" y="793.9" width="3.6" height="2.4" fill="#155d46"/>
<rect x="340.12" y="794.8" width="3.6" height="1.5" fill="#693139"/>
<rect x="343.71" y="778.8" width="3.6" height="17.5" fill="#155d46"/>
<rect x="347.30" y="783.8" width="3.6" height="12.5" fill="#155d46"/>
<rect x="350.89" y="780.0" width="3.6" height="16.3" fill="#155d46"/>
<rect x="354.48" y="772.9" width="3.6" height="23.4" fill="#693139"/>
<rect x="358.07" y="790.0" width="3.6" height="6.3" fill="#693139"/>
<rect x="361.65" y="791.2" width="3.6" height="5.1" fill="#693139"/>
<rect x="365.24" y="793.9" width="3.6" height="2.4" fill="#693139"/>
<rect x="368.83" y="794.3" width="3.6" height="2.0" fill="#693139"/>
<rect x="372.42" y="794.3" width="3.6" height="2.0" fill="#155d46"/>
<rect x="376.01" y="794.3" width="3.6" height="2.0" fill="#155d46"/>
<rect x="379.60" y="790.4" width="3.6" height="5.9" fill="#155d46"/>
<rect x="383.19" y="795.3" width="3.6" height="1.0" fill="#155d46"/>
<rect x="390.37" y="795.3" width="3.6" height="1.0" fill="#693139"/>
<rect x="393.96" y="795.3" width="3.6" height="1.0" fill="#693139"/>
<rect x="397.54" y="788.1" width="3.6" height="8.2" fill="#693139"/>
<rect x="401.13" y="786.5" width="3.6" height="9.8" fill="#693139"/>
<rect x="404.72" y="776.7" width="3.6" height="19.6" fill="#155d46"/>
<rect x="408.31" y="789.2" width="3.6" height="7.1" fill="#155d46"/>
<rect x="411.90" y="793.1" width="3.6" height="3.2" fill="#693139"/>
<rect x="415.49" y="773.1" width="3.6" height="23.2" fill="#155d46"/>
<rect x="419.08" y="781.4" width="3.6" height="14.9" fill="#693139"/>
<rect x="422.67" y="791.7" width="3.6" height="4.6" fill="#693139"/>
<rect x="426.26" y="795.3" width="3.6" height="1.0" fill="#155d46"/>
<rect x="429.85" y="793.1" width="3.6" height="3.2" fill="#155d46"/>
<rect x="433.44" y="795.3" width="3.6" height="1.0" fill="#693139"/>
<rect x="437.02" y="793.1" width="3.6" height="3.2" fill="#155d46"/>
<rect x="440.61" y="779.1" width="3.6" height="17.2" fill="#693139"/>
<rect x="444.20" y="756.5" width="3.6" height="39.8" fill="#155d46"/>
<rect x="447.79" y="781.4" width="3.6" height="14.9" fill="#155d46"/>
<rect x="451.38" y="758.0" width="3.6" height="38.3" fill="#155d46"/>
<rect x="454.97" y="790.4" width="3.6" height="5.9" fill="#693139"/>
<rect x="458.56" y="793.1" width="3.6" height="3.2" fill="#155d46"/>
<rect x="462.15" y="765.1" width="3.6" height="31.2" fill="#155d46"/>
<rect x="465.74" y="765.1" width="3.6" height="31.2" fill="#155d46"/>
<rect x="469.32" y="795.3" width="3.6" height="1.0" fill="#155d46"/>
<rect x="472.91" y="736.6" width="3.6" height="59.7" fill="#155d46"/>
<rect x="476.50" y="776.4" width="3.6" height="19.9" fill="#155d46"/>
<rect x="480.09" y="789.2" width="3.6" height="7.1" fill="#155d46"/>
<rect x="483.68" y="778.0" width="3.6" height="18.3" fill="#155d46"/>
<rect x="487.27" y="781.4" width="3.6" height="14.9" fill="#155d46"/>
<rect x="490.86" y="747.9" width="3.6" height="48.4" fill="#155d46"/>
<rect x="494.45" y="772.9" width="3.6" height="23.4" fill="#155d46"/>
<rect x="498.04" y="770.3" width="3.6" height="26.0" fill="#693139"/>
<rect x="501.63" y="733.0" width="3.6" height="63.3" fill="#155d46"/>
<rect x="505.21" y="783.9" width="3.6" height="12.4" fill="#155d46"/>
<rect x="508.80" y="776.7" width="3.6" height="19.6" fill="#155d46"/>
<rect x="512.39" y="771.7" width="3.6" height="24.6" fill="#693139"/>
<rect x="515.98" y="785.4" width="3.6" height="10.9" fill="#155d46"/>
<rect x="519.57" y="768.1" width="3.6" height="28.2" fill="#155d46"/>
<rect x="523.16" y="780.3" width="3.6" height="16.0" fill="#693139"/>
<rect x="526.75" y="779.1" width="3.6" height="17.2" fill="#155d46"/>
<rect x="530.34" y="788.0" width="3.6" height="8.3" fill="#693139"/>
<rect x="533.93" y="781.4" width="3.6" height="14.9" fill="#693139"/>
<rect x="537.52" y="790.1" width="3.6" height="6.2" fill="#693139"/>
<rect x="541.11" y="791.9" width="3.6" height="4.4" fill="#155d46"/>
<rect x="544.69" y="789.2" width="3.6" height="7.1" fill="#155d46"/>
<rect x="548.28" y="754.4" width="3.6" height="41.9" fill="#155d46"/>
<rect x="551.87" y="748.1" width="3.6" height="48.2" fill="#155d46"/>
<rect x="555.46" y="751.7" width="3.6" height="44.6" fill="#693139"/>
<rect x="559.05" y="761.6" width="3.6" height="34.7" fill="#155d46"/>
<rect x="562.64" y="756.8" width="3.6" height="39.5" fill="#693139"/>
<rect x="566.23" y="768.1" width="3.6" height="28.2" fill="#693139"/>
<rect x="569.82" y="771.6" width="3.6" height="24.7" fill="#155d46"/>
<rect x="573.41" y="763.3" width="3.6" height="33.0" fill="#693139"/>
<rect x="577.00" y="768.1" width="3.6" height="28.2" fill="#155d46"/>
<rect x="580.58" y="756.8" width="3.6" height="39.5" fill="#693139"/>
<rect x="584.17" y="770.4" width="3.6" height="25.9" fill="#155d46"/>
<rect x="587.76" y="793.0" width="3.6" height="3.3" fill="#155d46"/>
<rect x="591.35" y="791.8" width="3.6" height="4.5" fill="#693139"/>
<rect x="594.94" y="795.1" width="3.6" height="1.2" fill="#155d46"/>
<rect x="598.53" y="793.3" width="3.6" height="3.0" fill="#693139"/>
<rect x="602.12" y="791.8" width="3.6" height="4.5" fill="#155d46"/>
<rect x="605.71" y="795.1" width="3.6" height="1.2" fill="#693139"/>
<rect x="609.30" y="774.3" width="3.6" height="22.0" fill="#693139"/>
<rect x="612.88" y="789.2" width="3.6" height="7.1" fill="#155d46"/>
<rect x="616.47" y="795.1" width="3.6" height="1.2" fill="#155d46"/>
<rect x="620.06" y="795.1" width="3.6" height="1.2" fill="#693139"/>
<rect x="623.65" y="790.4" width="3.6" height="5.9" fill="#693139"/>
<rect x="627.24" y="788.2" width="3.6" height="8.1" fill="#155d46"/>
<rect x="630.83" y="785.4" width="3.6" height="10.9" fill="#155d46"/>
<rect x="634.42" y="789.2" width="3.6" height="7.1" fill="#155d46"/>
<rect x="638.01" y="781.8" width="3.6" height="14.5" fill="#155d46"/>
<rect x="641.60" y="783.2" width="3.6" height="13.1" fill="#155d46"/>
<rect x="645.19" y="788.2" width="3.6" height="8.1" fill="#693139"/>
<rect x="648.78" y="784.4" width="3.6" height="11.9" fill="#693139"/>
<rect x="652.36" y="780.5" width="3.6" height="15.8" fill="#155d46"/>
<rect x="655.95" y="790.4" width="3.6" height="5.9" fill="#155d46"/>
<rect x="659.54" y="790.4" width="3.6" height="5.9" fill="#693139"/>
<rect x="663.13" y="784.4" width="3.6" height="11.9" fill="#693139"/>
<rect x="666.72" y="781.8" width="3.6" height="14.5" fill="#155d46"/>
<rect x="670.31" y="776.7" width="3.6" height="19.6" fill="#155d46"/>
<rect x="673.90" y="779.3" width="3.6" height="17.0" fill="#155d46"/>
<rect x="677.49" y="790.4" width="3.6" height="5.9" fill="#693139"/>
<rect x="681.08" y="789.2" width="3.6" height="7.1" fill="#155d46"/>
<rect x="684.67" y="791.8" width="3.6" height="4.5" fill="#155d46"/>
<rect x="688.25" y="779.3" width="3.6" height="17.0" fill="#155d46"/>
<rect x="691.84" y="774.3" width="3.6" height="22.0" fill="#155d46"/>
<rect x="695.43" y="751.7" width="3.6" height="44.6" fill="#155d46"/>
<rect x="699.02" y="770.4" width="3.6" height="25.9" fill="#693139"/>
<rect x="702.61" y="766.8" width="3.6" height="29.5" fill="#693139"/>
<rect x="706.20" y="790.4" width="3.6" height="5.9" fill="#155d46"/>
<rect x="709.79" y="790.4" width="3.6" height="5.9" fill="#155d46"/>
<rect x="713.38" y="780.5" width="3.6" height="15.8" fill="#693139"/>
<rect x="716.97" y="783.8" width="3.6" height="12.5" fill="#693139"/>
<rect x="720.56" y="661.3" width="3.6" height="135.0" fill="#693139"/>
<rect x="724.14" y="689.3" width="3.6" height="107.0" fill="#155d46"/>
<rect x="727.73" y="744.3" width="3.6" height="52.0" fill="#155d46"/>
<rect x="731.32" y="634.3" width="3.6" height="162.0" fill="#693139"/>
<rect x="734.91" y="776.9" width="3.6" height="19.4" fill="#155d46"/>
<rect x="738.50" y="780.4" width="3.6" height="15.9" fill="#693139"/>
<rect x="742.09" y="782.8" width="3.6" height="13.5" fill="#693139"/>
<rect x="745.68" y="777.8" width="3.6" height="18.5" fill="#155d46"/>
<rect x="749.27" y="772.9" width="3.6" height="23.4" fill="#693139"/>
<rect x="752.86" y="772.9" width="3.6" height="23.4" fill="#155d46"/>
<rect x="756.45" y="777.8" width="3.6" height="18.5" fill="#155d46"/>
<rect x="760.03" y="786.8" width="3.6" height="9.5" fill="#155d46"/>
<rect x="763.62" y="786.8" width="3.6" height="9.5" fill="#155d46"/>
<rect x="767.21" y="785.2" width="3.6" height="11.1" fill="#693139"/>
<rect x="770.80" y="778.8" width="3.6" height="17.5" fill="#155d46"/>
<rect x="774.39" y="767.9" width="3.6" height="28.4" fill="#693139"/>
<rect x="777.98" y="787.8" width="3.6" height="8.5" fill="#155d46"/>
<rect x="781.57" y="769.9" width="3.6" height="26.4" fill="#155d46"/>
<rect x="785.16" y="759.0" width="3.6" height="37.3" fill="#693139"/>
<rect x="788.75" y="760.0" width="3.6" height="36.3" fill="#155d46"/>
<rect x="792.34" y="771.3" width="3.6" height="25.0" fill="#155d46"/>
<rect x="795.92" y="771.3" width="3.6" height="25.0" fill="#155d46"/>
<rect x="799.51" y="763.0" width="3.6" height="33.3" fill="#693139"/>
<rect x="803.10" y="781.8" width="3.6" height="14.5" fill="#155d46"/>
<rect x="806.69" y="751.5" width="3.6" height="44.8" fill="#155d46"/>
<rect x="810.28" y="755.0" width="3.6" height="41.3" fill="#155d46"/>
<rect x="813.87" y="768.9" width="3.6" height="27.4" fill="#693139"/>
<rect x="817.46" y="765.0" width="3.6" height="31.3" fill="#155d46"/>
<rect x="821.05" y="744.1" width="3.6" height="52.2" fill="#693139"/>
<rect x="824.64" y="761.4" width="3.6" height="34.9" fill="#155d46"/>
<rect x="828.23" y="762.6" width="3.6" height="33.7" fill="#155d46"/>
<rect x="831.81" y="764.0" width="3.6" height="32.3" fill="#693139"/>
<rect x="835.40" y="741.5" width="3.6" height="54.8" fill="#693139"/>
<rect x="838.99" y="759.0" width="3.6" height="37.3" fill="#155d46"/>
<rect x="842.58" y="778.8" width="3.6" height="17.5" fill="#693139"/>
<rect x="846.17" y="744.1" width="3.6" height="52.2" fill="#693139"/>
<rect x="849.76" y="781.2" width="3.6" height="15.1" fill="#155d46"/>
<rect x="853.35" y="783.8" width="3.6" height="12.5" fill="#155d46"/>
<rect x="856.94" y="794.7" width="3.6" height="1.6" fill="#693139"/>
<rect x="860.53" y="783.8" width="3.6" height="12.5" fill="#155d46"/>
<rect x="864.12" y="792.7" width="3.6" height="3.6" fill="#155d46"/>
<rect x="867.70" y="772.9" width="3.6" height="23.4" fill="#693139"/>
<rect x="871.29" y="765.3" width="3.6" height="31.0" fill="#693139"/>
<rect x="874.88" y="759.0" width="3.6" height="37.3" fill="#693139"/>
<rect x="878.47" y="760.0" width="3.6" height="36.3" fill="#693139"/>
<rect x="882.06" y="778.8" width="3.6" height="17.5" fill="#155d46"/>
<rect x="885.65" y="793.1" width="3.6" height="3.2" fill="#693139"/>
<rect x="889.24" y="790.3" width="3.6" height="6.0" fill="#155d46"/>
<rect x="892.83" y="781.2" width="3.6" height="15.1" fill="#155d46"/>
<rect x="896.42" y="780.0" width="3.6" height="16.3" fill="#155d46"/>
<rect x="900.00" y="776.4" width="3.6" height="19.9" fill="#155d46"/>
<rect x="903.59" y="788.8" width="3.6" height="7.5" fill="#155d46"/>
<rect x="907.18" y="780.0" width="3.6" height="16.3" fill="#155d46"/>
<rect x="910.77" y="782.9" width="3.6" height="13.4" fill="#155d46"/>
<rect x="914.36" y="755.0" width="3.6" height="41.3" fill="#155d46"/>
<rect x="917.95" y="776.4" width="3.6" height="19.9" fill="#693139"/>
<rect x="921.54" y="777.9" width="3.6" height="18.4" fill="#155d46"/>
<rect x="925.13" y="777.9" width="3.6" height="18.4" fill="#155d46"/>
<rect x="928.72" y="782.9" width="3.6" height="13.4" fill="#155d46"/>
<rect x="932.31" y="772.9" width="3.6" height="23.4" fill="#155d46"/>
<rect x="935.89" y="766.2" width="3.6" height="30.1" fill="#155d46"/>
<rect x="939.48" y="769.0" width="3.6" height="27.3" fill="#155d46"/>
<rect x="943.07" y="785.0" width="3.6" height="11.3" fill="#693139"/>
<rect x="946.66" y="782.9" width="3.6" height="13.4" fill="#155d46"/>
<rect x="950.25" y="769.0" width="3.6" height="27.3" fill="#155d46"/>
<rect x="953.84" y="773.7" width="3.6" height="22.6" fill="#693139"/>
<rect x="957.43" y="765.0" width="3.6" height="31.3" fill="#155d46"/>
<rect x="961.02" y="792.7" width="3.6" height="3.6" fill="#693139"/>
<rect x="964.61" y="781.2" width="3.6" height="15.1" fill="#155d46"/>
<rect x="968.20" y="792.7" width="3.6" height="3.6" fill="#155d46"/>
<rect x="971.79" y="793.9" width="3.6" height="2.4" fill="#155d46"/>
<rect x="975.37" y="794.8" width="3.6" height="1.5" fill="#155d46"/>
<rect x="978.96" y="782.9" width="3.6" height="13.4" fill="#693139"/>
<rect x="982.55" y="767.8" width="3.6" height="28.5" fill="#693139"/>
<rect x="986.14" y="783.8" width="3.6" height="12.5" fill="#155d46"/>
<rect x="989.73" y="781.2" width="3.6" height="15.1" fill="#155d46"/>
<rect x="993.32" y="792.7" width="3.6" height="3.6" fill="#155d46"/>
<rect x="996.91" y="780.0" width="3.6" height="16.3" fill="#693139"/>
<rect x="1000.50" y="761.2" width="3.6" height="35.1" fill="#693139"/>
<rect x="1004.09" y="763.8" width="3.6" height="32.5" fill="#693139"/>
<rect x="1007.68" y="786.4" width="3.6" height="9.9" fill="#693139"/>
<rect x="1011.26" y="767.8" width="3.6" height="28.5" fill="#693139"/>
<rect x="1014.85" y="762.6" width="3.6" height="33.7" fill="#693139"/>
<rect x="1018.44" y="787.7" width="3.6" height="8.6" fill="#155d46"/>
<rect x="1022.03" y="792.7" width="3.6" height="3.6" fill="#155d46"/>
<rect x="1025.62" y="792.7" width="3.6" height="3.6" fill="#693139"/>
<rect x="1029.21" y="786.4" width="3.6" height="9.9" fill="#693139"/>
<rect x="1032.80" y="791.2" width="3.6" height="5.1" fill="#693139"/>
<rect x="1036.39" y="786.4" width="3.6" height="9.9" fill="#155d46"/>
<rect x="1039.98" y="782.9" width="3.6" height="13.4" fill="#155d46"/>
<rect x="1043.57" y="777.9" width="3.6" height="18.4" fill="#693139"/>
<rect x="1047.15" y="785.0" width="3.6" height="11.3" fill="#155d46"/>
<rect x="1050.74" y="785.0" width="3.6" height="11.3" fill="#693139"/>
<rect x="1054.33" y="780.0" width="3.6" height="16.3" fill="#155d46"/>
<rect x="1057.92" y="793.9" width="3.6" height="2.4" fill="#693139"/></g>
 <!-- last price line -->
 <path d="M22 363.5H1097" stroke="#c94c5a" stroke-width="1" stroke-dasharray="2 1"/>
 <g font-family="Liberation Sans, sans-serif" font-size="13.8" fill="#7f848e">
  <text x="1109" y="281">185.0</text><text x="1109" y="320">180.0</text><text x="1109" y="358">175.0</text><text x="1109" y="396">170.0</text><text x="1109" y="435">165.0</text><text x="1109" y="474">160.0</text><text x="1109" y="512">155.0</text><text x="1109" y="551">150.0</text><text x="1109" y="589">145.0</text><text x="1109" y="627">140.0</text>
  <text x="1109" y="659">4K</text><text x="1109" y="695">3K</text><text x="1109" y="730">2K</text><text x="1109" y="765">1K</text><text x="1109" y="801">0</text>
 </g>
 <path d="M1098 275.5h5M1098 314.5h5M1098 352.5h5M1098 391.5h5M1098 430.5h5M1098 468.5h5M1098 507.5h5M1098 545.5h5M1098 584.5h5M1098 622.5h5M1098 653.5h5M1098 689.5h5M1098 724.5h5M1098 759.5h5M1098 796.5h5" stroke="#2a2e35"/>
 <!-- pane separator -->
 <rect x="22" y="623" width="1131" height="7" fill="#1e2127"/>
 <path d="M22 623.5H1153" stroke="#2a2e35"/>
 <!-- x axis -->
 <rect x="22" y="805" width="1131" height="2" fill="#242830"/>
 <path d="M152.5 806V811M324.5 806V811M496.5 806V811M668.5 806V811M841.5 806V811M1014.5 806V811" stroke="#2a2e35"/>
 <g font-family="Liberation Sans, sans-serif" font-size="13" font-weight="700" fill="#8a8f99" text-anchor="middle">
  <text x="152.5" y="830">5</text><text x="324.5" y="830">7</text><text x="496.5" y="830">9</text><text x="668.5" y="830">11</text><text x="841.5" y="830">13</text><text x="1014.5" y="830">15</text>
 </g>
 <rect x="1098" y="353" width="55" height="21" fill="#f6465d"/>
 <path d="M1098 363.5H1103" stroke="#fff"/>
 <text x="1108" y="369" font-family="Liberation Sans, sans-serif" font-size="15" fill="#fff">173.7</text>
 <!-- gear bottom right -->
 <g transform="translate(1124.5 822.8)" fill="none" stroke="#8a8f99" stroke-width="1.2">
  <circle r="6"/>
  <path d="M0 -9V-6M0 6V9M-9 0H-6M6 0H9M-6.4 -6.4L-4.2 -4.2M4.2 4.2L6.4 6.4M-6.4 6.4L-4.2 4.2M4.2 -4.2L6.4 -6.4"/>
 </g>
 <path d="M10 842.5H1159" stroke="#2a2e35"/>
 <rect x="11" y="843" width="152" height="3" fill="#4fe0e6"/>
 <!-- left toggle -->
 <rect x="11.5" y="737" width="10" height="32" rx="4" fill="#4fd9e8" stroke="#2d8ff0" stroke-width="1"/>
 <path d="M14.8 748.5L17.5 753L14.8 757.5" fill="none" stroke="#1a1d22" stroke-width="1.2"/>
 <!-- tradingview-like badge -->
 <circle cx="52.8" cy="586.2" r="19.5" fill="#2f3240"/>
 <path d="M40.6 593.3C39.6 593.3 39 592.6 39 591.6V589.5C39 586.6 40.9 584.3 43.6 584C44.6 580.3 47.5 577.5 51.2 577.5C54 577.5 56.3 579 57.4 581.4C57.9 581.3 58.5 581.2 59.1 581.2C62.9 581.2 65.9 584.2 65.9 588V591.6C65.9 592.6 65.2 593.3 64.2 593.3Z" fill="#37a4ef"/>
 <path d="M39.5 591L49.3 583.2L55.9 589.4L62.6 582.2" fill="none" stroke="#2f3240" stroke-width="1.5"/>
 <circle cx="49.3" cy="583.2" r="1.8" fill="#2f3240"/><circle cx="55.9" cy="589.4" r="1.8" fill="#2f3240"/>
</svg>

<!-- chart legend -->
<svg class="a" style="left:36px;top:273px" width="18" height="18" viewBox="0 0 18 18"><rect x="1.6" y="1.6" width="14.8" height="15" rx="2.4" fill="none" stroke="#8a8d98" stroke-width="1.2"/><path d="M2.2 9H15.8" stroke="#656973" stroke-width="2"/></svg>
<div class="a lg" style="left:66px">SOL-USDT, 60</div>
<svg class="a" style="left:191px;top:276px" width="12" height="10" viewBox="0 0 12 10"><path d="M2 3L5.5 6.5L9 3" fill="none" stroke="#c3c6cc" stroke-width="1.4"/></svg>
<div class="a lg" style="left:236px">开</div><div class="a lg red" style="left:256.5px">175.1</div>
<div class="a lg" style="left:319px">高</div><div class="a lg red" style="left:339px">175.1</div>
<div class="a lg" style="left:400px">低</div><div class="a lg red" style="left:419.5px">173.4</div>
<div class="a lg" style="left:482px">收</div><div class="a lg red" style="left:502px">173.7</div>
<div class="a lg red" style="left:562.5px">−1.4</div><div class="a lg red" style="left:608px">(−0.80%)</div>
<!-- volume legend -->
<div class="a" style="left:37px;top:635px;font-size:16px;line-height:20px;color:#8c9595">Volume (20)</div>
<svg class="a" style="left:128px;top:632px" width="90" height="24" viewBox="128 632 90 24">
 <path d="M130.5 642.5L134.5 646.5L138.5 642.5" fill="none" stroke="#c8cbd0" stroke-width="1.4"/>
 <rect x="153" y="635" width="17" height="17.6" rx="2.2" fill="#4b4f5b"/>
 <rect x="174.2" y="635" width="17.4" height="17.6" rx="2.2" fill="#4b4f5b"/>
 <rect x="195.3" y="635" width="17.3" height="17.6" rx="2.2" fill="#4b4f5b"/>
 <circle cx="161.5" cy="643.8" r="4.6" fill="none" stroke="#1c1f25" stroke-width="1.6"/>
 <circle cx="161.5" cy="643.8" r="1.7" fill="#1c1f25"/>
 <g transform="translate(182.9 643.8)" fill="#1c1f25">
  <circle r="4.4"/>
  <path d="M-1.2 -6.3H1.2V6.3H-1.2Z M-6.3 -1.2H6.3V1.2H-6.3Z" />
  <path d="M-1.2 -6.3H1.2V6.3H-1.2Z M-6.3 -1.2H6.3V1.2H-6.3Z" transform="rotate(45)"/>
 </g>
 <circle cx="182.9" cy="643.8" r="1.6" fill="#4b4f5b"/>
 <path d="M199 638.3L209 649.3M209 638.3L199 649.3" stroke="#1c1f25" stroke-width="2"/>
</svg>
<div class="a red" style="left:223px;top:635px;font-size:16px;line-height:20px">63.11</div>

<!-- ================= RIGHT PANEL ================= -->
<div id="rp" class="a"></div>
<div class="a" style="left:1179px;top:141px;font-size:20px;font-weight:700;line-height:26px;color:#eaecef">当前委托</div>
<svg class="a" style="left:1280px;top:145px" width="100" height="20" viewBox="1280 145 100 20">
 <g stroke-width="1.6" fill="none" stroke-linecap="round">
  <path d="M1284.9 149.6V160.6M1287.8 150.1H1297.8M1287.8 153.6H1297.8M1287.8 157.1H1297.8M1287.8 160.5H1297.8" stroke="#8a3b46"/>
  <path d="M1320.3 149.6V160.6M1323.2 150.1H1333.6M1323.2 153.6H1333.6M1323.2 157.1H1333.6M1323.2 160.5H1333.6" stroke="#138459"/>
  <path d="M1354.6 149.8V154.6M1357.7 150.5H1368.8M1357.7 154.2H1368.8" stroke="#f0505f"/>
  <path d="M1354.6 157.4V162.1M1357.7 157.9H1368.8M1357.7 161.4H1368.8" stroke="#0fd384"/>
 </g>
</svg>
<div class="a w" style="left:1464px;top:145px;font-size:16px;font-weight:700;line-height:20px;transform:scaleX(0.86);transform-origin:0 0">0.1</div>
<svg class="a" style="left:1486px;top:149px" width="15" height="10" viewBox="0 0 15 10"><path d="M1.5 1.5H13.5L7.5 7.5Z" fill="#c9ccd3"/></svg>
<div class="a hd" style="left:1179px;top:185px;font-size:15px;line-height:20px">价格(USDT)</div>
<div class="a hd r" style="left:1269px;width:100px;top:185px;font-size:15px;line-height:20px">数量(SOL)</div>
<div class="a hd r" style="left:1393px;width:100px;top:185px;font-size:15px;line-height:20px">总量(SOL)</div>
<div class="a" style="left:1389px;top:209px;width:125px;height:30px;background:#2a1e24"></div>
<div class="a ob red" style="left:1179px;top:215px">174.3</div>
<div class="a ob w r" style="left:1269px;width:100px;top:215px">129.06</div>
<div class="a ob w r" style="left:1393px;width:100px;top:215px">785.80</div>
<div class="a" style="left:1410px;top:239px;width:104px;height:30px;background:#2a1e24"></div>
<div class="a ob red" style="left:1179px;top:245px">174.1</div>
<div class="a ob w r" style="left:1269px;width:100px;top:245px">172.29</div>
<div class="a ob w r" style="left:1393px;width:100px;top:245px">656.74</div>
<div class="a" style="left:1437px;top:269px;width:77px;height:30px;background:#2a1e24"></div>
<div class="a ob red" style="left:1179px;top:275px">173.9</div>
<div class="a ob w r" style="left:1269px;width:100px;top:275px">345.57</div>
<div class="a ob w r" style="left:1393px;width:100px;top:275px">484.45</div>
<div class="a" style="left:1492px;top:299px;width:22px;height:30px;background:#2a1e24"></div>
<div class="a" style="left:1265px;top:299px;width:124px;height:30px;background:#16362f"></div>
<div class="a ob red" style="left:1179px;top:305px">173.8</div>
<div class="a ob w r" style="left:1269px;width:100px;top:305px">0.75</div>
<div class="a ob w r" style="left:1393px;width:100px;top:305px">138.88</div>
<div class="a" style="left:1492px;top:329px;width:22px;height:30px;background:#2a1e24"></div>
<div class="a ob red" style="left:1179px;top:335px">173.7</div>
<div class="a ob w r" style="left:1269px;width:100px;top:335px">129.51</div>
<div class="a ob w r" style="left:1393px;width:100px;top:335px">138.13</div>
<div class="a" style="left:1512px;top:359px;width:2px;height:30px;background:#2a1e24"></div>
<div class="a ob red" style="left:1179px;top:365px">173.5</div>
<div class="a ob w r" style="left:1269px;width:100px;top:365px">8.62</div>
<div class="a ob w r" style="left:1393px;width:100px;top:365px">8.62</div>
<div class="a" style="left:1159px;top:389px;width:355px;height:50px;background:#1e2129"></div>
<div class="a grn" style="left:1179px;top:399px;font-size:23.5px;font-weight:700;line-height:28px;transform:scaleX(0.83);transform-origin:0 0">173.7</div>
<svg class="a" style="left:1230px;top:402px" width="14" height="22" viewBox="0 0 14 22"><path d="M6.6 5V19.2" stroke="#0ecb81" stroke-width="2.4"/><path d="M2.4 8.2L6.6 1.6L10.8 8.2Z" fill="#0ecb81"/></svg>
<div class="a grn" style="left:1459px;top:402.5px;font-size:17px;font-weight:700;line-height:24px">更多</div>
<div class="a ob grn" style="left:1179px;top:446px">173.4</div>
<div class="a ob w r" style="left:1269px;width:100px;top:446px">0.18</div>
<div class="a ob w r" style="left:1393px;width:100px;top:446px">0.18</div>
<div class="a ob grn" style="left:1179px;top:476px">173.3</div>
<div class="a ob w r" style="left:1269px;width:100px;top:476px">0.08</div>
<div class="a ob w r" style="left:1393px;width:100px;top:476px">0.26</div>
<div class="a" style="left:1498px;top:500px;width:16px;height:30px;background:#16362f"></div>
<div class="a ob grn" style="left:1179px;top:506px">173.2</div>
<div class="a ob w r" style="left:1269px;width:100px;top:506px">103.92</div>
<div class="a ob w r" style="left:1393px;width:100px;top:506px">104.18</div>
<div class="a" style="left:1498px;top:530px;width:16px;height:30px;background:#16362f"></div>
<div class="a ob grn" style="left:1179px;top:536px">173.1</div>
<div class="a ob w r" style="left:1269px;width:100px;top:536px">0.56</div>
<div class="a ob w r" style="left:1393px;width:100px;top:536px">104.74</div>
<div class="a" style="left:1453px;top:560px;width:61px;height:30px;background:#16362f"></div>
<div class="a ob grn" style="left:1179px;top:566px">173.0</div>
<div class="a ob w r" style="left:1269px;width:100px;top:566px">278.22</div>
<div class="a ob w r" style="left:1393px;width:100px;top:566px">382.96</div>
<div class="a" style="left:1431px;top:590px;width:83px;height:28px;background:#16362f"></div>
<div class="a ob grn" style="left:1179px;top:596px">172.8</div>
<div class="a ob w r" style="left:1269px;width:100px;top:596px">138.88</div>
<div class="a ob w r" style="left:1393px;width:100px;top:596px">521.84</div>
<div class="a hl" style="left:1159px;top:618px;width:355px"></div>
<div class="a" style="left:1179px;top:630px;font-size:20px;font-weight:700;line-height:26px;color:#eaecef">最新成交</div>
<div class="a hd" style="left:1179px;top:676px;font-size:15px;line-height:20px">成交时间</div>
<div class="a hd r" style="left:1269px;width:100px;top:676px;font-size:15px;line-height:20px">价格(USDT)</div>
<div class="a hd r" style="left:1393px;width:100px;top:676px;font-size:15px;line-height:20px">数量(SOL)</div>
<div class="a" style="left:1505px;top:671px;width:6px;height:26px;border-radius:3px;background:#2c3142"></div>
<div class="a ob w" style="left:1179px;top:709px">13:41:36</div>
<div class="a ob grn r" style="left:1269px;width:100px;top:709px">173.7</div>
<div class="a ob w r" style="left:1393px;width:100px;top:709px">26.87</div>
<div class="a ob w" style="left:1179px;top:739px">13:40:19</div>
<div class="a ob grn r" style="left:1269px;width:100px;top:739px">173.5</div>
<div class="a ob w r" style="left:1393px;width:100px;top:739px">6.14</div>
<div class="a ob w" style="left:1179px;top:769px">13:39:17</div>
<div class="a ob grn r" style="left:1269px;width:100px;top:769px">173.4</div>
<div class="a ob w r" style="left:1393px;width:100px;top:769px">7.96</div>
<div class="a ob w" style="left:1179px;top:799px">13:17:51</div>
<div class="a ob red r" style="left:1269px;width:100px;top:799px">173.9</div>
<div class="a ob w r" style="left:1393px;width:100px;top:799px">19.43</div>
<div class="a ob w" style="left:1179px;top:829px">13:02:50</div>
<div class="a ob grn r" style="left:1269px;width:100px;top:829px">175.0</div>
<div class="a ob w r" style="left:1393px;width:100px;top:829px">2.71</div>
<div class="a" style="left:1159px;top:842px;width:355px;height:15px;background:#1a1d22;border-top:1px solid #2a2e35"></div>
</body></html>
